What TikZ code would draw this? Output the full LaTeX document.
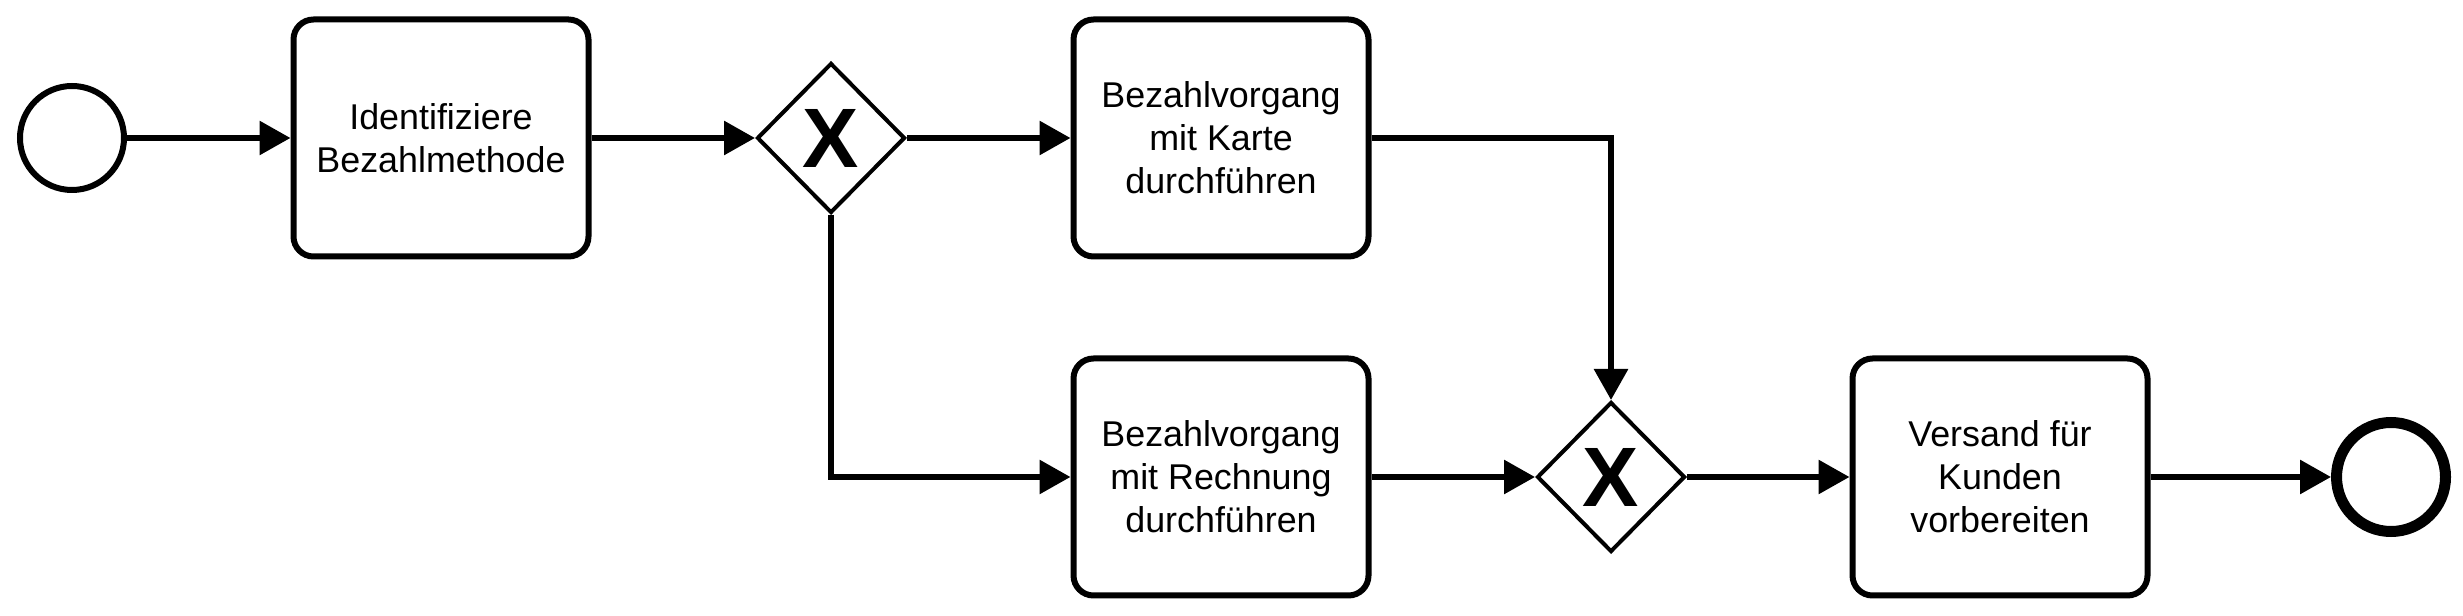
\documentclass[tikz,border=0pt]{standalone}
\usepackage{fontspec}
\setmainfont{Liberation Sans}
\usepackage{tikz}
\usetikzlibrary{shapes.geometric, positioning, arrows.meta}
\tikzset{
  task/.style={draw, line width=0.06cm, rounded corners=0.2cm, minimum width=2.95cm, minimum height=2.37cm, align=center, font=\fontsize{10.2}{12.2}\selectfont},
  gateway/.style={draw, diamond, line width=0.04cm, aspect=1, inner sep=0pt, minimum width=1.48cm, minimum height=1.50cm, font=\fontsize{24}{24}\selectfont\bfseries},
  flow/.style={line width=0.06cm, -{Triangle[length=0.31cm, width=0.33cm]}}
}
\begin{document}
\begin{tikzpicture}
\useasboundingbox (0, 0) rectangle (24.63, 6.15);
\node [draw, circle, line width=0.06cm, minimum size=1.04cm, inner sep=0pt] (start) at (0.72, 4.77) {};
\node [task] (ident) at (4.41, 4.77) {Identifiziere\\Bezahlmethode};
\node [gateway] (gw1) at (8.31, 4.77) {X};
\node [task] (karte) at (12.21, 4.77) {Bezahlvorgang\\mit Karte\\durchführen};
\node [task] (rechnung) at (12.21, 1.38) {Bezahlvorgang\\mit Rechnung\\durchführen};
\node [gateway] (gw2) at (16.11, 1.38) {X};
\node [task] (versand) at (20.00, 1.38) {Versand für\\Kunden\\vorbereiten};
\node [draw, circle, line width=0.11cm, minimum size=1.09cm, inner sep=0pt] (ende) at (23.91, 1.38) {};
\draw [flow] (start) -- (ident);
\draw [flow] (ident) -- (gw1);
\draw [flow] (gw1.east) -- (karte.west);
\draw [flow] (gw1.south) |- (rechnung.west);
\draw [flow] (karte.east) -| (gw2.north);
\draw [flow] (rechnung.east) -- (gw2.west);
\draw [flow] (gw2.east) -- (versand.west);
\draw [flow] (versand) -- (ende);
\end{tikzpicture}
\end{document}
